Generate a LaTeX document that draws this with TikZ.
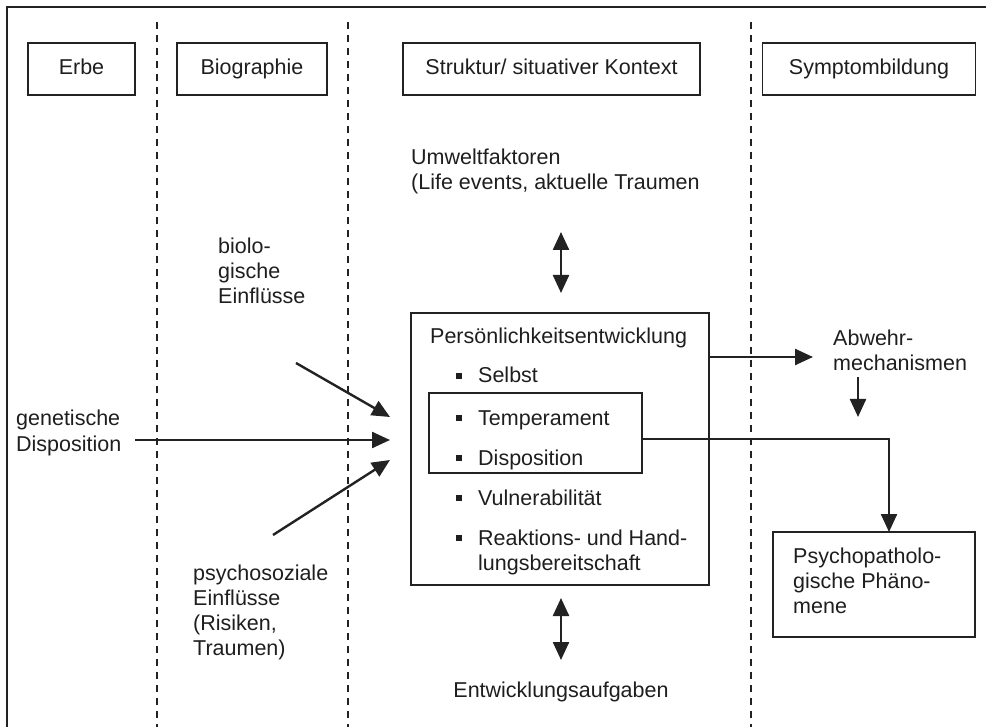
\documentclass[tikz,border=0pt]{standalone}
\usepackage{fontspec}
\setmainfont{Liberation Sans}
\usetikzlibrary{arrows.meta}
\definecolor{ln}{HTML}{222222}
\definecolor{txt}{HTML}{1E1E1E}
\begin{document}
\begin{tikzpicture}[x=1pt,y=-1pt,
  every node/.style={font=\fontsize{21.5}{25}\selectfont, text=txt},
  hdr/.style={draw=ln, line width=1.8pt, minimum height=52pt, inner sep=0pt, text height=15.5pt, text depth=4.5pt},
  lbl/.style={anchor=base west, inner sep=0pt, align=left},
  box/.style={draw=ln, line width=1.8pt, inner sep=0pt},
  bul/.style={fill=txt, minimum size=5.5pt, inner sep=0pt},
  arr/.style={draw=ln, line width=2.4pt, -{Triangle[length=18pt,width=16pt]}},
  darr/.style={draw=ln, line width=2.4pt, {Triangle[length=18pt,width=16pt]}-{Triangle[length=18pt,width=16pt]}},
  sepline/.style={draw=ln, line width=1.3pt, dash pattern=on 7pt off 6pt},
  frameline/.style={draw=ln, line width=1.8pt}]
\useasboundingbox (0,0) rectangle (986,727);
% frame and column separators
\draw[frameline] (7,727) -- (7,7) -- (986,7);
\draw[sepline] (157,22) -- (157,727);
\draw[sepline] (348,22) -- (348,727);
\draw[sepline] (751,22) -- (751,727);
% headers
\node[hdr, minimum width=107pt] (erbe) at (81.5,69) {Erbe};
\node[hdr, minimum width=150pt] (bio) at (252,69) {Biographie};
\node[hdr, minimum width=297pt] (struk) at (551.5,69) {Struktur/ situativer Kontext};
\node[hdr, minimum width=213pt] (sym) at (869,69) {Symptombildung};
% central boxes
\node[box, minimum width=298pt, minimum height=272pt] (main) at (560,449) {};
\node[box, minimum width=213pt, minimum height=80pt] (inner) at (535.5,433) {};
\node[lbl] (pe) at (430,344) {Persönlichkeitsentwicklung};
\node[bul] (b1) at (459,376) {};
\node[lbl] (i1) at (478,383) {Selbst};
\node[bul] (b2) at (459,418) {};
\node[lbl] (i2) at (478,425) {Temperament};
\node[bul] (b3) at (459,458) {};
\node[lbl] (i3) at (478,465) {Disposition};
\node[bul] (b4) at (459,498) {};
\node[lbl] (i4) at (478,505) {Vulnerabilität};
\node[bul] (b5) at (459,538) {};
\node[lbl] (i5) at (478,570) {Reaktions- und Hand-\\lungsbereitschaft};
% labels (anchor = baseline of last line)
\node[lbl] (umw) at (411,190) {Umweltfaktoren\\(Life events, aktuelle Traumen};
\node[lbl] (bioe) at (218,304) {biolo-\\gische\\Einflüsse};
\node[lbl] (gen) at (16,451) {genetische\\Disposition};
\node[lbl] (psz) at (193,655) {psychosoziale\\Einflüsse\\(Risiken,\\Traumen)};
\node[anchor=base, inner sep=0pt] (ent) at (561,697) {Entwicklungsaufgaben};
\node[lbl] (abw) at (833,371) {Abwehr-\\mechanismen};
\node[box, minimum width=202pt, minimum height=105pt] (psy) at (874,584.5) {};
\node[lbl] (psyt) at (793,613) {Psychopatholo-\\gische Phäno-\\mene};
% connector end points
\coordinate (uTop) at (561,232);
\coordinate (uBot) at (561,293);
\coordinate (dTop) at (561,598);
\coordinate (dBot) at (561,660);
\coordinate (sA) at (296,363);
\coordinate (tA) at (390,417);
\coordinate (sB) at (135,440);
\coordinate (tB) at (390,440);
\coordinate (sC) at (273,535);
\coordinate (tC) at (390,460);
\coordinate (abwIn) at (813,357);
\coordinate (abwS) at (858,377);
\coordinate (abwT) at (858,417);
\coordinate (psyIn) at (889,532);
% connectors
\draw[darr] (uTop) -- (uBot);
\draw[darr] (dTop) -- (dBot);
\draw[arr] (sA) -- (tA);
\draw[arr] (sB) -- (tB);
\draw[arr] (sC) -- (tC);
\draw[arr] (main.east |- abwIn) -- (abwIn);
\draw[arr] (abwS) -- (abwT);
\draw[arr] (inner.east |- 0,439) -| (psyIn);
\end{tikzpicture}
\end{document}
